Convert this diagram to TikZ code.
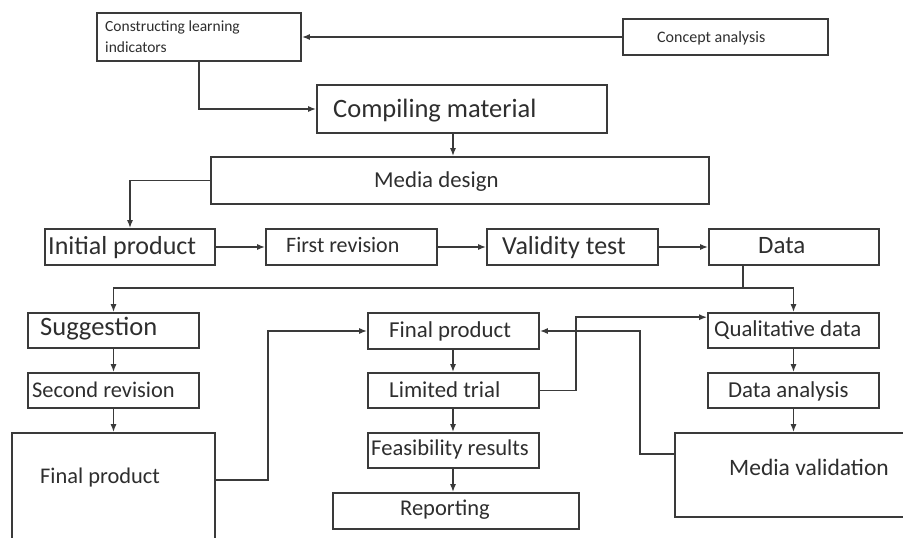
\documentclass[tikz,border=0pt]{standalone}
\usepackage{fontspec}
\setmainfont{Carlito}
\usetikzlibrary{arrows.meta,calc}
\definecolor{ln}{HTML}{3A3A3A}
\definecolor{tx}{HTML}{2E2E2E}
\tikzset{
  box/.style={draw=ln, line width=1.6pt, rectangle, inner sep=0pt},
  lbl/.style={text=tx, inner sep=0pt, anchor=base west},
  arr/.style={draw=ln, line width=1.6pt, -{Latex[length=8pt,width=6pt]}},
  con/.style={draw=ln, line width=1.6pt},
  big/.style={font=\fontsize{26}{30}\selectfont},
  mid/.style={font=\fontsize{22.8}{27}\selectfont},
  sml/.style={font=\fontsize{15.5}{21}\selectfont},
}
\newcommand{\bx}[5]{\node[box, minimum width={#4-#2}, minimum height={#5-#3}] (#1) at ({(#2+#4)/2},{(#3+#5)/2}) {};}
\begin{document}
\begin{tikzpicture}[x=1pt,y=-1pt]
\useasboundingbox (0,0) rectangle (903,538);
\clip (0,0) rectangle (903,538);
\fill[white] (0,0) rectangle (903,538);
% boxes
\bx{cli}{97}{13}{301}{61}
\bx{ca}{623}{19}{828}{55}
\bx{cm}{317}{85}{607}{133}
\bx{md}{211}{157}{709}{204}
\bx{ip}{45}{229}{215}{265}
\bx{fr}{266}{229}{437}{265}
\bx{vt}{487}{229}{658}{265}
\bx{da}{709}{229}{879}{265}
\bx{sg}{28}{313}{199}{348}
\bx{sr}{28}{373}{199}{408}
\bx{fpl}{12}{433}{215}{560}
\bx{mfp}{368}{313}{539}{349}
\bx{lt}{368}{373}{539}{408}
\bx{fe}{368}{433}{539}{468}
\bx{rep}{333}{493}{579}{529}
\bx{qd}{708}{313}{879}{348}
\bx{dan}{708}{373}{879}{408}
\bx{mv}{675}{433}{912}{517}
% texts
\node[sml, text=tx, inner sep=0pt, anchor=west, align=left] (cli-t) at (105,37) {Constructing learning\\indicators};
\node[lbl, font=\fontsize{16}{19}\selectfont] (ca-t) at (657,42) {Concept analysis};
\node[lbl, font=\fontsize{26.5}{30}\selectfont] (cm-t) at (333,117) {Compiling material};
\node[lbl, mid] (md-t) at (374,187) {Media design};
\node[lbl, big] (ip-t) at (48,254) {Initial product};
\node[lbl, font=\fontsize{22}{26}\selectfont] (fr-t) at (286,252) {First revision};
\node[lbl, big] (vt-t) at (502,254) {Validity test};
\node[lbl, font=\fontsize{25}{29}\selectfont] (da-t) at (758,253) {Data};
\node[lbl, font=\fontsize{26.5}{30}\selectfont] (sg-t) at (40,335) {Suggestion};
\node[lbl, font=\fontsize{22.4}{26}\selectfont] (sr-t) at (32,397) {Second revision};
\node[lbl, font=\fontsize{22.4}{26}\selectfont] (fpl-t) at (40,483) {Final product};
\node[lbl, mid] (mfp-t) at (389,337) {Final product};
\node[lbl, mid] (lt-t) at (389,397) {Limited trial};
\node[lbl, font=\fontsize{22.6}{26}\selectfont] (fe-t) at (371,455) {Feasibility results};
\node[lbl, font=\fontsize{22.5}{26}\selectfont] (rep-t) at (400,515) {Reporting};
\node[lbl, mid] (qd-t) at (714,336) {Qualitative data};
\node[lbl, mid] (dan-t) at (728,397) {Data analysis};
\node[lbl, font=\fontsize{23.5}{27}\selectfont] (mv-t) at (729,475) {Media validation};
% helper coordinates
\coordinate (x453) at (453,0);
\coordinate (split) at (743,288);
% connectors
\draw[arr] (ca.west) -- (cli.east);
\draw[arr] (cli.south) |- (cm.west);
\draw[arr] (cm.south -| x453) -- (md.north -| x453);
\draw[arr] (md.west) -| (ip.north);
\draw[arr] (ip.east) -- (fr.west);
\draw[arr] (fr.east) -- (vt.west);
\draw[arr] (vt.east) -- (da.west);
\draw[con] (da.south -| split) -- (split);
\draw[arr] (split) -| (sg.north);
\draw[arr] (split) -| (qd.north);
\draw[arr] (sg.south) -- (sr.north);
\draw[arr] (sr.south) -- (sr.south |- fpl.north);
\draw[arr] ($(fpl.north east)+(0,48)$) -- ++(52,0) |- (mfp.west);
\draw[arr] (mfp.south -| x453) -- (lt.north -| x453);
\draw[arr] (lt.south -| x453) -- (fe.north -| x453);
\draw[arr] (fe.south -| x453) -- (rep.north -| x453);
\draw[arr] (lt.east) -- ++(36,0) |- ($(qd.north west)+(0,5)$);
\draw[arr] ($(mv.north west)+(0,22)$) -- ++(-34,0) |- (mfp.east);
\draw[arr] (qd.south -| dan.north) -- (dan.north);
\draw[arr] (dan.south) -- (dan.south |- mv.north);
\end{tikzpicture}
\end{document}
